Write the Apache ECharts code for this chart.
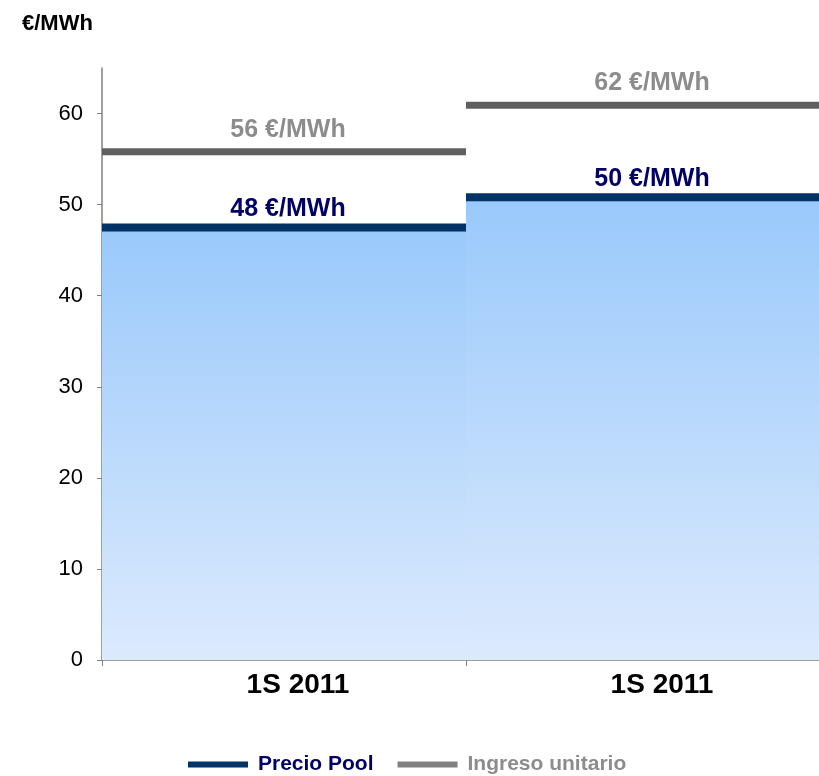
<!DOCTYPE html>
<html>
<head>
<meta charset="utf-8">
<script src="https://cdn.jsdelivr.net/npm/echarts@6/dist/echarts.min.js"></script>
<style>html,body{margin:0;padding:0;background:#fff}#c{width:819px;height:776px}</style>
</head>
<body>
<div id="c"></div>
<script>
const categories = ['1S 2011', '1S 2011'];
const precioPool = [47.5, 50.8];
const ingresoUnitario = [55.8, 60.9];
const precioLabels = ['48 €/MWh', '50 €/MWh'];
const ingresoLabels = ['56 €/MWh', '62 €/MWh'];
const yTicks = [0, 10, 20, 30, 40, 50, 60];

const FONT = '"Liberation Sans", Arial, sans-serif';
const chart = echarts.init(document.getElementById('c'));

function stepLine(color, thick, labels, labelColor, labelOffset) {
  return function (params, api) {
    const idx = api.value(0);
    const val = api.value(1);
    const p = api.coord([idx, val]);
    const w = api.size([1, 0])[0];
    return {
      type: 'group',
      children: [
        { type: 'rect', shape: { x: p[0] - w / 2, y: p[1] - thick / 2, width: w, height: thick }, style: { fill: color } },
        { type: 'text', x: p[0] + 4, y: p[1] - labelOffset,
          style: { text: labels[params.dataIndex], fill: labelColor, font: 'bold 25px ' + FONT, align: 'center', verticalAlign: 'middle' } }
      ]
    };
  };
}

chart.setOption({
  animation: false,
  textStyle: { fontFamily: FONT },
  title: { text: '€/MWh', left: 17, top: 8, textStyle: { fontSize: 22, fontWeight: 'bold', color: '#000', fontFamily: FONT } },
  grid: { left: 102, top: 68, width: 728, bottom: 116, containLabel: false, outerBoundsMode: 'none' },
  legend: {
    left: 183, top: 749, icon: 'rect', itemWidth: 60, itemHeight: 6, itemGap: 24,
    textStyle: { fontSize: 21, fontWeight: 'bold', fontFamily: FONT, padding: [0, 0, 0, 5] },
    data: [
      { name: 'Precio Pool', textStyle: { color: '#000066' } },
      { name: 'Ingreso unitario', textStyle: { color: '#8c8c8c' } }
    ]
  },
  xAxis: {
    type: 'category', data: categories, boundaryGap: true,
    axisLine: { lineStyle: { color: '#808080', width: 1.5 } },
    axisTick: { show: true, length: 6, lineStyle: { color: '#808080' } },
    axisLabel: { fontSize: 28, fontWeight: 'bold', color: '#000', margin: 11, fontFamily: FONT, padding: [0, 0, 0, 28] }
  },
  yAxis: {
    type: 'value', min: 0, max: 65, interval: 10,
    splitLine: { show: false },
    axisLine: { show: true, lineStyle: { color: '#808080', width: 1.5 } },
    axisTick: { show: true, length: 5, lineStyle: { color: '#808080' }, customValues: yTicks },
    axisLabel: { fontSize: 22, color: '#000', margin: 19, fontFamily: FONT, customValues: yTicks }
  },
  series: [
    {
      name: 'area', type: 'bar', data: precioPool, barWidth: '100%', barGap: '-100%', silent: true,
      itemStyle: { color: new echarts.graphic.LinearGradient(0, 0, 0, 1, [
        { offset: 0, color: '#99c9fb' }, { offset: 1, color: '#dceafd' }]) },
      z: 1
    },
    {
      name: 'Ingreso unitario', type: 'custom', color: '#808080', z: 3,
      data: ingresoUnitario.map((v, i) => [i, v]), encode: { x: 0, y: 1 },
      renderItem: stepLine('#606060', 7, ingresoLabels, '#8c8c8c', 22)
    },
    {
      name: 'Precio Pool', type: 'custom', color: '#003366', z: 4,
      data: precioPool.map((v, i) => [i, v]), encode: { x: 0, y: 1 },
      renderItem: stepLine('#003366', 8, precioLabels, '#000066', 18)
    }
  ]
});
</script>
</body>
</html>
